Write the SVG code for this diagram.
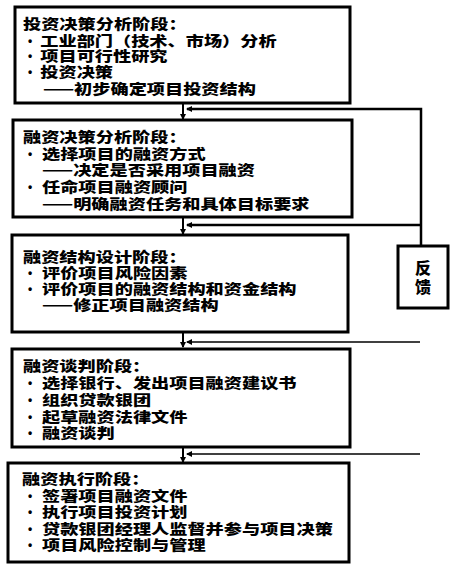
<svg xmlns="http://www.w3.org/2000/svg" width="469" height="569" viewBox="0 0 469 569">
<style>
.box{fill:#fff;stroke:#000;stroke-width:3}
.t{font-family:"Noto Sans CJK SC","Noto Sans",sans-serif;font-size:14px;font-weight:900;fill:#000}
.b{font-family:"Liberation Sans",sans-serif;font-size:12px;font-weight:bold;fill:#000}
.fb{font-family:"Noto Sans CJK SC","Noto Sans",sans-serif;font-size:16px;font-weight:900;fill:#000;text-anchor:middle}
.c{fill:none;stroke:#000}
</style>
<defs>
<marker id="ah" markerWidth="6" markerHeight="6" refX="5" refY="3" orient="auto" markerUnits="userSpaceOnUse">
<path d="M0,0 L6,3 L0,6 z" fill="#000"/>
</marker>
</defs>
<rect width="469" height="569" fill="#fff"/>
<g id="connectors">
<path class="c" stroke-width="2" d="M183,103 V119" marker-end="url(#ah)"/>
<path class="c" stroke-width="2" d="M183,217 V234" marker-end="url(#ah)"/>
<path class="c" stroke-width="2" d="M183,332 V347" marker-end="url(#ah)"/>
<path class="c" stroke-width="2" d="M183,447 V462" marker-end="url(#ah)"/>
<path class="c" stroke-width="2.5" d="M421,246 V109 H187" marker-end="url(#ah)"/>
<path class="c" stroke-width="2.5" d="M421,225 H187" marker-end="url(#ah)"/>
<path class="c" stroke-width="1.5" d="M420,342 H187" marker-end="url(#ah)"/>
<path class="c" stroke-width="1.5" d="M420,454 H187" marker-end="url(#ah)"/>
</g>
<g id="node1">
<rect class="box" x="15" y="7" width="335" height="96"/>
<text class="b" x="28" y="45">•</text>
<text class="b" x="28" y="60">•</text>
<text class="b" x="28" y="76">•</text>
<g transform="scale(1.3,1)">
<text class="t" x="17.7" y="29">投资决策分析阶段：</text>
<text class="t" x="31" y="46">工业部门（技术、市场）分析</text>
<text class="t" x="31" y="61">项目可行性研究</text>
<text class="t" x="31" y="77">投资决策</text>
<text class="t" x="33" y="94">——初步确定项目投资结构</text>
</g>
</g>
<g id="node2">
<rect class="box" x="13" y="120" width="339" height="97"/>
<text class="b" x="28" y="158">•</text>
<text class="b" x="28" y="191">•</text>
<g transform="scale(1.3,1)">
<text class="t" x="17.7" y="142">融资决策分析阶段：</text>
<text class="t" x="32.3" y="159">选择项目的融资方式</text>
<text class="t" x="32.3" y="175">——决定是否采用项目融资</text>
<text class="t" x="32.3" y="192">任命项目融资顾问</text>
<text class="t" x="32.3" y="209">——明确融资任务和具体目标要求</text>
</g>
</g>
<g id="node3">
<rect class="box" x="12" y="235" width="336" height="97"/>
<text class="b" x="28" y="277">•</text>
<text class="b" x="28" y="293">•</text>
<g transform="scale(1.3,1)">
<text class="t" x="17.7" y="262">融资结构设计阶段：</text>
<text class="t" x="32.3" y="278">评价项目风险因素</text>
<text class="t" x="32.3" y="294">评价项目的融资结构和资金结构</text>
<text class="t" x="32.3" y="310">——修正项目融资结构</text>
</g>
</g>
<g id="node4">
<rect class="box" x="12" y="349" width="338" height="98" stroke-width="2.5"/>
<text class="b" x="28" y="387">•</text>
<text class="b" x="28" y="404">•</text>
<text class="b" x="28" y="421">•</text>
<text class="b" x="28" y="437">•</text>
<g transform="scale(1.3,1)">
<text class="t" x="17.7" y="371">融资谈判阶段：</text>
<text class="t" x="32.3" y="388">选择银行、发出项目融资建议书</text>
<text class="t" x="32.3" y="405">组织贷款银团</text>
<text class="t" x="32.3" y="422">起草融资法律文件</text>
<text class="t" x="32.3" y="438">融资谈判</text>
</g>
</g>
<g id="node5">
<rect class="box" x="8" y="463" width="341" height="99"/>
<text class="b" x="28" y="500">•</text>
<text class="b" x="28" y="516">•</text>
<text class="b" x="28" y="533">•</text>
<text class="b" x="28" y="549">•</text>
<g transform="scale(1.3,1)">
<text class="t" x="17" y="484">融资执行阶段：</text>
<text class="t" x="32.3" y="501">签署项目融资文件</text>
<text class="t" x="32.3" y="517">执行项目投资计划</text>
<text class="t" x="32.3" y="534">贷款银团经理人监督并参与项目决策</text>
<text class="t" x="32.3" y="550">项目风险控制与管理</text>
</g>
</g>
<g id="feedback">
<rect class="box" x="398" y="246" width="50" height="62" stroke-width="2.5"/>
<text class="fb" x="423" y="274">反</text>
<text class="fb" x="423" y="293">馈</text>
</g>
</svg>
